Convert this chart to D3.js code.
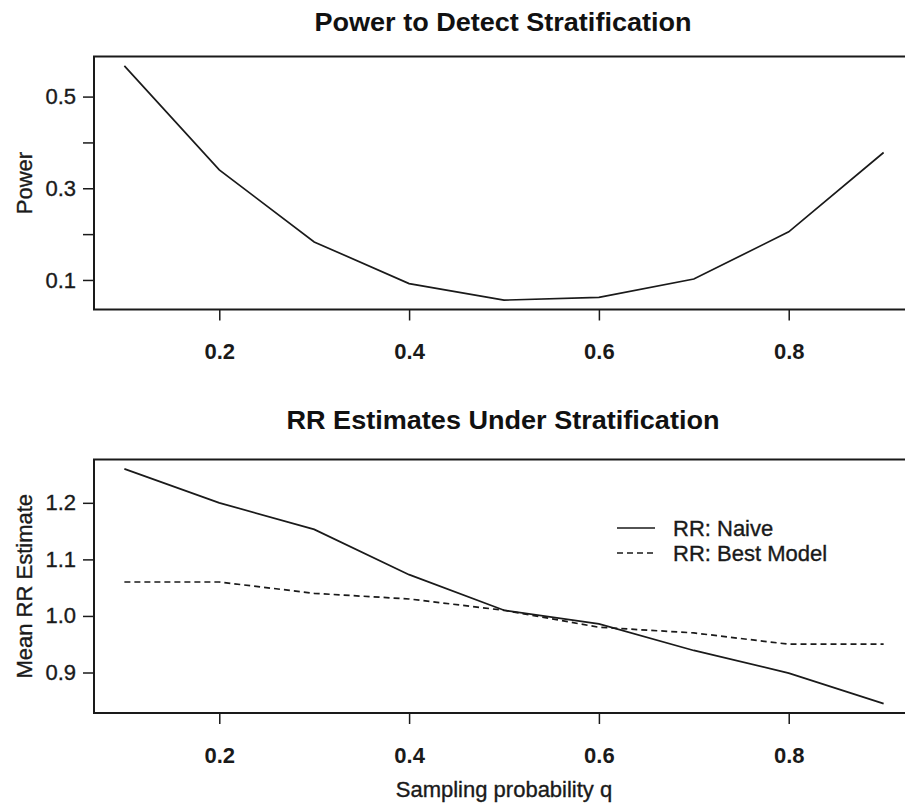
<!DOCTYPE html>
<html>
<head>
<meta charset="utf-8">
<script src="https://cdn.jsdelivr.net/npm/d3@7"></script>
<style>
    body { margin: 0; background: #fff; }
    svg { display: block; font-family: "Liberation Sans", Arial, sans-serif; }
    .tick line { stroke: #1a1a1a; stroke-width: 1.5; }
    /* the source is a slightly heavy scan, so thicken regular text a bit */
    .heavy { stroke: #1a1a1a; stroke-width: 0.35; }
</style>
</head>
<body>
<svg id="chart" width="905" height="803"></svg>
<script>
// sampling probability q (x for both panels)
const qValues = [0.1, 0.2, 0.3, 0.4, 0.5, 0.6, 0.7, 0.8, 0.9];
// top panel: power
const powerValues = [0.567, 0.34, 0.183, 0.092, 0.056, 0.062, 0.102, 0.205, 0.378];
// bottom panel: mean RR estimates
const rrNaive = [1.26, 1.20, 1.153, 1.073, 1.01, 0.986, 0.939, 0.899, 0.845];
const rrBest = [1.06, 1.06, 1.04, 1.03, 1.01, 0.98, 0.97, 0.95, 0.95];

const xTicks = [0.2, 0.4, 0.6, 0.8];
const powerTicks = [0.1, 0.2, 0.3, 0.4, 0.5];
const powerTickLabels = [0.1, 0.3, 0.5];
const rrTicks = [0.9, 1.0, 1.1, 1.2];
const legendLabels = ['RR: Naive', 'RR: Best Model'];

const svg = d3.select('#chart');
const ink = '#1a1a1a';

// R style: pad data range by 4% on each side
function padded(values) {
    const [lo, hi] = d3.extent(values);
    const d = (hi - lo) * 0.04;
    return [lo - d, hi + d];
}

const x = d3.scaleLinear().domain(padded(qValues)).range([94, 914]);

function drawPanel(opts) {
    const y = d3.scaleLinear().domain(padded(opts.allValues)).range([opts.bottom, opts.top]);
    const g = svg.append('g');

    // title
    g.append('text')
        .attr('x', 503)
        .attr('y', opts.titleY)
        .attr('text-anchor', 'middle')
        .attr('font-size', '26px')
        .attr('font-weight', 'bold')
        .attr('fill', '#111')
        .attr('textLength', opts.titleWidth)
        .attr('lengthAdjust', 'spacingAndGlyphs')
        .text(opts.title);

    // x axis
    const xAxis = g.append('g')
        .attr('transform', `translate(0,${opts.bottom})`)
        .call(d3.axisBottom(x).tickValues(xTicks).tickSize(11).tickPadding(23).tickFormat(d3.format('.1f')));
    xAxis.select('.domain').remove();
    xAxis.selectAll('text')
        .attr('font-size', '22px')
        .attr('font-weight', 'bold')
        .attr('fill', ink)
        .attr('font-family', '"Liberation Sans", Arial, sans-serif');

    // y axis
    const yAxis = g.append('g')
        .attr('transform', `translate(${x.range()[0]},0)`)
        .call(d3.axisLeft(y).tickValues(opts.yTicks).tickSize(11).tickPadding(7)
            .tickFormat(d => opts.yLabels.some(v => Math.abs(v - d) < 1e-9) ? d3.format('.1f')(d) : ''));
    yAxis.select('.domain').remove();
    yAxis.selectAll('text')
        .attr('class', 'heavy')
        .attr('font-size', '22px')
        .attr('fill', ink)
        .attr('font-family', '"Liberation Sans", Arial, sans-serif');

    // y title
    g.append('text')
        .attr('class', 'heavy')
        .attr('transform', `translate(32,${(opts.top + opts.bottom) / 2}) rotate(-90)`)
        .attr('text-anchor', 'middle')
        .attr('font-size', '22px')
        .attr('fill', ink)
        .text(opts.yTitle);

    // series
    const line = d3.line().x((d, i) => x(qValues[i])).y(d => y(d));
    opts.series.forEach(s => {
        g.append('path')
            .datum(s.values)
            .attr('d', line)
            .attr('fill', 'none')
            .attr('stroke', ink)
            .attr('stroke-width', 1.7)
            .attr('stroke-dasharray', s.dash || null);
    });

    // box
    g.append('rect')
        .attr('x', x.range()[0])
        .attr('y', opts.top)
        .attr('width', x.range()[1] - x.range()[0])
        .attr('height', opts.bottom - opts.top)
        .attr('fill', 'none')
        .attr('stroke', ink)
        .attr('stroke-width', 2);

    return { g, y };
}

drawPanel({
    title: 'Power to Detect Stratification',
    titleY: 31,
    titleWidth: 377,
    top: 56.5,
    bottom: 309.5,
    allValues: powerValues,
    yTicks: powerTicks,
    yLabels: powerTickLabels,
    yTitle: 'Power',
    series: [{ values: powerValues }]
});

const bottomPanel = drawPanel({
    title: 'RR Estimates Under Stratification',
    titleY: 429,
    titleWidth: 433,
    top: 459.5,
    bottom: 713,
    allValues: rrNaive.concat(rrBest),
    yTicks: rrTicks,
    yLabels: rrTicks,
    yTitle: 'Mean RR Estimate',
    series: [{ values: rrNaive }, { values: rrBest, dash: '6,4' }]
});

// x title
svg.append('text')
    .attr('class', 'heavy')
    .attr('x', 504)
    .attr('y', 797)
    .attr('text-anchor', 'middle')
    .attr('font-size', '22px')
    .attr('fill', ink)
    .text('Sampling probability q');

// legend
const legendDash = [null, '6,4'];
const legend = bottomPanel.g.append('g').attr('transform', 'translate(617,528)');
legendLabels.forEach((label, i) => {
    legend.append('line')
        .attr('x1', 0).attr('x2', 38)
        .attr('y1', i * 25).attr('y2', i * 25)
        .attr('stroke', ink)
        .attr('stroke-width', 1.7)
        .attr('stroke-dasharray', legendDash[i]);
    legend.append('text')
        .attr('class', 'heavy')
        .attr('x', 56)
        .attr('y', i * 25 + 8)
        .attr('font-size', '22px')
        .attr('fill', ink)
        .text(label);
});
</script>
</body>
</html>
